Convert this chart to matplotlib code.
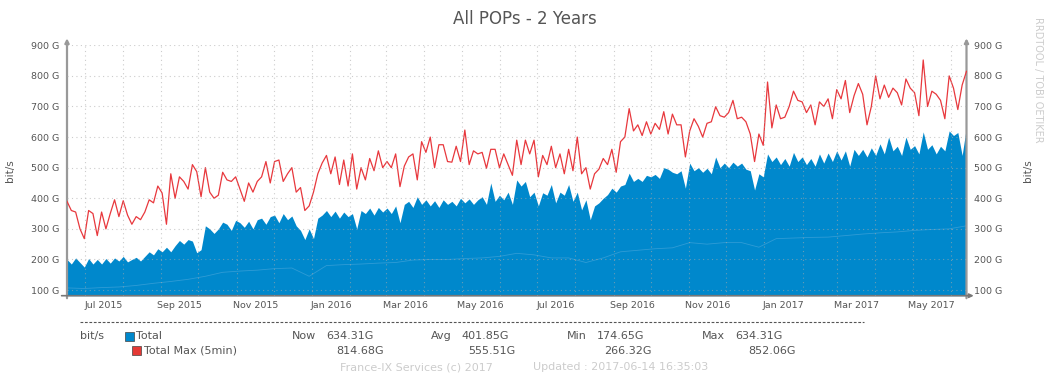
import numpy as np
import matplotlib
matplotlib.use("Agg")
import matplotlib.pyplot as plt
from matplotlib.patches import Rectangle
from matplotlib.lines import Line2D

# samples every 3.5 days from mid June 2015
t_start = np.datetime64("2015-06-16T16:00")
t_end = np.datetime64("2017-06-13T16:35")

# blue area, bit/s in G
total = [
    200, 185, 205, 190, 175, 203, 185, 200, 185, 203,
    188, 205, 195, 210, 192, 200, 207, 195, 210, 225,
    215, 235, 225, 240, 225, 245, 262, 250, 265, 260,
    222, 232, 310, 300, 285, 300, 322, 315, 295, 328,
    320, 305, 325, 300, 330, 335, 315, 340, 345, 320,
    350, 330, 342, 310, 295, 265, 300, 268, 335, 345,
    360, 340, 358, 335, 355, 340, 350, 300, 360, 350,
    368, 345, 370, 355, 368, 350, 375, 320, 380, 390,
    370, 405, 380, 395, 375, 392, 370, 395, 380, 390,
    375, 400, 385, 398, 380, 395, 405, 380, 450, 390,
    410, 395, 420, 380,
    460, 440, 455, 405, 420, 375,
    418, 410, 445, 385, 420, 410, 445, 390, 420, 362,
    395, 330, 375, 385, 400, 412, 433, 420, 440, 445,
    482, 455, 465, 455, 475, 470, 478, 465, 500, 495,
    485, 480, 490, 433, 515, 490, 500, 485, 498, 480,
    535, 500, 515, 500, 518, 505, 515, 495, 490, 427,
    480, 470, 545, 520, 535, 510, 530, 505, 550, 520,
    535, 510, 530, 505, 545, 515, 548, 520, 555, 525,
    555, 505, 560, 540, 560, 535, 565, 540, 578, 545,
    600, 555, 570, 540, 600, 560, 572, 545, 617, 560,
    575, 545, 570, 555, 620, 605, 615, 540, 634,
]

# red line, 5 min max
total_max = [
    390, 360, 355, 300, 268, 360, 350, 278, 355, 300,
    350, 395, 340, 392, 345, 315, 340, 330, 355, 395,
    385, 440, 417, 315, 480, 400, 470, 455, 430, 510,
    487, 405, 500, 420, 400, 410, 485, 460, 455, 470,
    430, 390, 450, 420, 455, 470, 520, 450, 520, 525,
    455, 480, 500, 420, 435, 360, 375, 420, 480, 515,
    540, 480, 535, 445, 525, 440, 545, 430, 500, 460,
    530, 490, 555, 500, 520, 500, 545, 438, 505, 535,
    545, 460, 585, 550, 600, 500, 575, 575, 520, 518,
    570, 520, 623, 510, 555, 545, 550, 498, 560, 560,
    500, 545, 510, 475,
    590, 510, 590, 545, 590, 470,
    540, 510, 570, 500, 545, 480, 560, 490, 600, 480,
    500, 430, 480, 495, 530, 510, 560, 485, 585, 600,
    693, 620, 640, 605, 650, 610, 645, 625, 683, 610,
    675, 640, 640, 535, 620, 660, 635, 600, 645, 650,
    699, 670, 665, 680, 720, 660, 665, 650, 610, 520,
    610, 573, 780, 630, 705, 660, 665, 700, 750, 720,
    715, 680, 705, 640, 715, 700, 725, 660, 755, 725,
    785, 680, 735, 775, 740, 640, 700, 800, 725, 770,
    730, 760, 745, 705, 790, 760, 745, 670, 852, 700,
    750, 740, 720, 660, 800, 760, 690, 770, 815,
]

# faint line inside the area, every 14 days
inner = [
    107, 105, 108, 110, 115, 122, 128, 135, 145, 158,
    162, 165, 170, 172, 145, 180, 183, 185, 188, 190,
    198, 200, 200, 203, 205, 210, 220, 215, 205, 205,
    190, 205, 225, 230, 235, 238, 255, 250, 255, 255,
    240, 268, 270, 272, 273, 278, 283, 287, 290, 295,
    298, 300, 310,
]

month_starts = [
    "2015-07-01", "2015-08-01", "2015-09-01", "2015-10-01", "2015-11-01",
    "2015-12-01", "2016-01-01", "2016-02-01", "2016-03-01", "2016-04-01",
    "2016-05-01", "2016-06-01", "2016-07-01", "2016-08-01", "2016-09-01",
    "2016-10-01", "2016-11-01", "2016-12-01", "2017-01-01", "2017-02-01",
    "2017-03-01", "2017-04-01", "2017-05-01", "2017-06-01",
]
label_months = ["2015-07", "2015-09", "2015-11", "2016-01", "2016-03", "2016-05",
                "2016-07", "2016-09", "2016-11", "2017-01", "2017-03", "2017-05"]
label_text = ["Jul 2015", "Sep 2015", "Nov 2015", "Jan 2016", "Mar 2016", "May 2016",
              "Jul 2016", "Sep 2016", "Nov 2016", "Jan 2017", "Mar 2017", "May 2017"]
y_vals = [100, 200, 300, 400, 500, 600, 700, 800, 900]
y_text = ["%d G" % v for v in y_vals]

legend_rows = [
    ("Total", "#0088cc", ["634.31G", "401.85G", "174.65G", "634.31G"]),
    ("Total Max (5min)", "#e53935", ["814.68G", "555.51G", "266.32G", "852.06G"]),
]

W, H = 1049, 380
fig = plt.figure(figsize=(W / 100, H / 100), dpi=100)
fig.patch.set_facecolor("white")


def fx(x):
    return x / W


def fy(y):
    return 1 - y / H


x0, x1, ytop, ybot = 67, 966.5, 45.3, 295.7
ax = fig.add_axes([fx(x0), fy(ybot), fx(x1 - x0), (ybot - ytop) / H])

t = t_start + np.arange(len(total)) * np.timedelta64(84, "h")
t_in = t_start + np.arange(len(inner)) * np.timedelta64(14, "D")
t = t.astype("datetime64[m]").astype(object)
t_in = t_in.astype("datetime64[m]").astype(object)

ymin = 81.5
ax.fill_between(t, ymin, total, color="#0088cc", lw=0, zorder=2)
ax.plot(t_in, inner, color="#4fa9dc", lw=0.6, alpha=0.6, zorder=3)
ax.plot(t, total_max, color="#e8383d", lw=0.9, zorder=4)

lo = t_start.astype("datetime64[m]").astype(object)
hi = t_end.astype("datetime64[m]").astype(object)
ax.set_xlim(lo, hi)
ax.set_ylim(ymin, 900)

grid_kw = dict(color="#aaaaaa", alpha=0.6, lw=0.8, ls=(0, (1, 3)), zorder=5)
for m in month_starts:
    ax.axvline(np.datetime64(m).astype("datetime64[m]").astype(object), **grid_kw)
for v in y_vals:
    ax.axhline(v, **grid_kw)

# labels centred on the middle of the month
mids = []
for m in label_months:
    a = np.datetime64(m, "M")
    d0 = a.astype("datetime64[m]")
    d1 = (a + 1).astype("datetime64[m]")
    mids.append((d0 + (d1 - d0) / 2).astype(object))
ax.set_xticks(mids)
ax.set_xticklabels(label_text)
ax.set_yticks(y_vals)
ax.set_yticklabels(y_text)
ax.tick_params(axis="x", length=0, pad=4, labelsize=6.8, labelcolor="#555555")
ax.tick_params(axis="y", length=0, labelsize=6.8, labelcolor="#555555",
               labelright=True, pad=5.5)

for s in ax.spines.values():
    s.set_visible(False)

arrow = dict(arrowstyle="-|>", color="#999999", lw=1.6, mutation_scale=6,
             shrinkA=0, shrinkB=0)
ax.annotate("", xy=(0, 1.028), xytext=(0, -0.01), xycoords="axes fraction",
            arrowprops=arrow, annotation_clip=False)
ax.annotate("", xy=(1, 1.028), xytext=(1, -0.01), xycoords="axes fraction",
            arrowprops=arrow, annotation_clip=False)
arrow_b = dict(arrow, color="#777777", lw=1.2)
ax.annotate("", xy=(1.008, 0), xytext=(-0.006, 0), xycoords="axes fraction",
            arrowprops=arrow_b, annotation_clip=False)

txt = "#555555"
fig.text(fx(525), fy(19), "All POPs - 2 Years", ha="center", va="center",
         fontsize=12, color="#555555")
fig.text(fx(10), fy(171), "bit/s", rotation=90, ha="center", va="center",
         fontsize=7.5, color=txt)
fig.text(fx(1028), fy(171), "bit/s", rotation=90, ha="center", va="center",
         fontsize=7.5, color=txt)
fig.text(fx(1038), fy(80), "RRDTOOL / TOBI OETIKER", rotation=-90, ha="center",
         va="center", fontsize=7, color="#cccccc")

fig.add_artist(Line2D([fx(80), fx(864)], [fy(322.3), fy(322.3)], color="#555555",
                      lw=0.8, dashes=(2.5, 1.5)))

fig.text(fx(80), fy(336), "bit/s", ha="left", va="center", fontsize=8, color=txt)
heads = ["Now", "Avg", "Min", "Max"]
head_x = [291.5, 431, 566.5, 701.5]
val_x = [[326.5, 461.5, 596.5, 735], [336.5, 468, 604, 748]]
box_x = [124.5, 131.5]
row_y = [336, 350.5]
for r, (name, col, vals) in enumerate(legend_rows):
    y = row_y[r]
    fig.add_artist(Rectangle((fx(box_x[r]), fy(y + 4.5)), 9 / W, 9 / H,
                             facecolor=col, edgecolor="#444444", lw=0.5))
    fig.text(fx(box_x[r] + 12), fy(y), name, ha="left", va="center", fontsize=8,
             color=txt)
    for k, v in enumerate(vals):
        if r == 0:
            fig.text(fx(head_x[k]), fy(y), heads[k], ha="left", va="center",
                     fontsize=8, color=txt)
        fig.text(fx(val_x[r][k]), fy(y), v, ha="left", va="center", fontsize=8,
                 color=txt)

fig.text(fx(340), fy(367), "France-IX Services (c) 2017", ha="left", va="center",
         fontsize=8, color="#cccccc")
fig.text(fx(533), fy(367), "Updated : 2017-06-14 16:35:03", ha="left", va="center",
         fontsize=8, color="#cccccc")

fig.savefig("out.png", dpi=100, facecolor="white")
